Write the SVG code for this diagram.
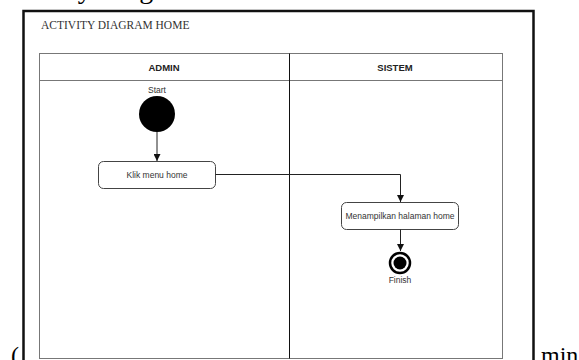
<svg xmlns="http://www.w3.org/2000/svg" width="579" height="360" viewBox="0 0 579 360">
  <style>
    .page { font-family: "Liberation Serif", "Times New Roman", serif; fill: #000; }
    .title { font-family: "Liberation Serif", "Times New Roman", serif; font-size: 11.5px; fill: #333; }
    .lane { font-family: "Liberation Sans", Arial, sans-serif; font-size: 9.5px; font-weight: bold; fill: #222; text-anchor: middle; }
    .lbl { font-family: "Liberation Sans", Arial, sans-serif; font-size: 8.5px; fill: #333; text-anchor: middle; }
    .act { fill: #fff; stroke: #444; stroke-width: 1; }
    .edge { fill: none; stroke: #222; stroke-width: 1; }
    .frame { fill: #fff; stroke: #111; stroke-width: 2.5; }
    .pool { fill: none; stroke: #777; stroke-width: 1; }
  </style>
  <defs>
    <marker id="arrow" viewBox="0 0 10 10" refX="10" refY="5" markerWidth="7" markerHeight="7" markerUnits="userSpaceOnUse" orient="auto">
      <path d="M0,0 L10,5 L0,10 z" fill="#111"/>
    </marker>
  </defs>
  <rect width="579" height="360" fill="#fff"/>
  <!-- page text around the pasted image -->
  <text class="page" x="0" y="-2" font-size="28">Activity Diagram</text>
  <text class="page" x="11" y="363" font-size="24">(</text>
  <text class="page" x="541" y="363" font-size="24">min</text>
  <!-- outer frame -->
  <rect class="frame" x="23.5" y="11" width="510" height="360"/>
  <text class="title" x="41" y="29">ACTIVITY DIAGRAM HOME</text>
  <!-- swimlanes -->
  <g id="swimlanes">
    <rect class="pool" x="39.5" y="53.5" width="463" height="305"/>
    <line class="pool" x1="39.5" y1="80.5" x2="502.5" y2="80.5"/>
    <line x1="289.5" y1="53.5" x2="289.5" y2="358.5" stroke="#111" stroke-width="1"/>
    <text class="lane" x="164" y="70.5">ADMIN</text>
    <text class="lane" x="395" y="70.5">SISTEM</text>
  </g>
  <g id="start">
    <text class="lbl" x="157" y="93">Start</text>
    <circle cx="157" cy="114" r="18" fill="#000"/>
  </g>
  <g id="klik">
    <rect class="act" x="98.5" y="161.5" width="117" height="27" rx="5"/>
    <text class="lbl" x="157" y="178" font-size="9">Klik menu home</text>
  </g>
  <g id="tampil">
    <rect class="act" x="341.5" y="202.5" width="117" height="27" rx="5"/>
    <text class="lbl" x="400" y="219" font-size="9.2">Menampilkan halaman home</text>
  </g>
  <g id="finish">
    <circle cx="400" cy="263" r="10" fill="#fff" stroke="#000" stroke-width="2.5"/>
    <circle cx="400" cy="263" r="6.5" fill="#000"/>
    <text class="lbl" x="400" y="283">Finish</text>
  </g>
  <g id="connectors">
    <line class="edge" x1="157" y1="132" x2="157" y2="161" marker-end="url(#arrow)"/>
    <polyline class="edge" points="215.5,174.5 400.5,174.5 400.5,202" marker-end="url(#arrow)"/>
    <line class="edge" x1="400.5" y1="229.5" x2="400.5" y2="251" marker-end="url(#arrow)"/>
  </g>
</svg>
